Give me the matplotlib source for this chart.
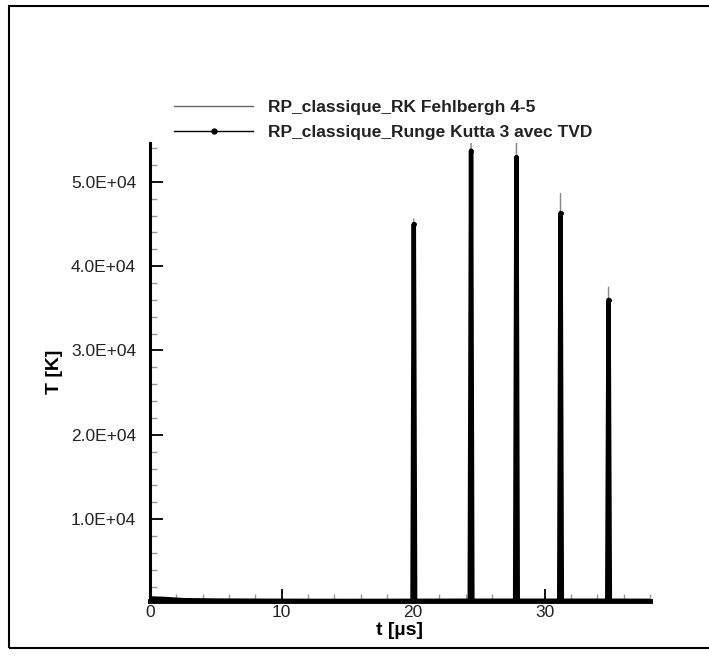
import matplotlib
matplotlib.use('Agg')
import matplotlib.pyplot as plt
from matplotlib.patches import Rectangle
from matplotlib.ticker import MultipleLocator, FuncFormatter

plt.rcParams['font.family'] = ['Liberation Sans', 'DejaVu Sans']

# RK Fehlbergh 4-5 (thin grey line)
t_rkf = [0.0, 1.0, 2.5, 5.0, 10.0, 15.0, 19.95, 20.05, 20.15,
         24.30, 24.40, 24.50, 27.75, 27.85, 27.95, 31.10, 31.20, 31.30,
         34.75, 34.85, 34.95, 38.0]
T_rkf = [600, 550, 400, 350, 320, 310, 320, 45600, 320,
         330, 56000, 330, 330, 56000, 330, 330, 48600, 330,
         330, 37500, 330, 320]

# Runge Kutta 3 avec TVD (thick black line with symbols)
t_rk3 = [0.0, 1.0, 2.5, 5.0, 10.0, 15.0, 19.95, 20.05, 20.15,
         24.30, 24.40, 24.50, 27.75, 27.85, 27.95, 31.10, 31.20, 31.30,
         34.75, 34.85, 34.95, 38.0]
T_rk3 = [600, 550, 400, 350, 320, 310, 320, 45000, 320,
         330, 53700, 330, 330, 52900, 330, 330, 46300, 330,
         330, 36000, 330, 320]

fig = plt.figure(figsize=(7.09, 6.59), dpi=100)
ax = fig.add_axes([150 / 709, 58 / 659, 500 / 709, 458 / 659])

ax.plot(t_rkf, T_rkf, color='#888888', lw=1.0,
        label='RP_classique_RK Fehlbergh 4-5')
ax.plot(t_rk3, T_rk3, color='black', lw=3.2, marker='o', ms=2.5,
        label='RP_classique_Runge Kutta 3 avec TVD')

ax.set_xlim(0, 38.0)
ax.set_ylim(300, 54600)

for s in ['top', 'right']:
    ax.spines[s].set_visible(False)
ax.spines['left'].set_linewidth(2.2)
ax.spines['bottom'].set_linewidth(3.5)

ax.xaxis.set_major_locator(MultipleLocator(10))
ax.xaxis.set_minor_locator(MultipleLocator(2))
ax.yaxis.set_major_locator(MultipleLocator(10000))
ax.yaxis.set_minor_locator(MultipleLocator(2000))
ax.yaxis.set_major_formatter(FuncFormatter(
    lambda v, p: '' if v < 5000 else '%.1fE+%02d' % (v / 10 ** 4, 4)))
ax.tick_params(which='major', direction='in', length=9, width=1.3,
               labelsize=12.5, labelcolor='#222222')
ax.tick_params(which='minor', direction='in', length=5, width=1.0,
               color='#999999')
ax.tick_params(axis='y', pad=10)
ax.tick_params(axis='x', pad=3)

ax.set_xlabel('t [µs]', fontsize=14, fontweight='bold', labelpad=1)
ax.set_ylabel('T [K]', fontsize=14, fontweight='bold', labelpad=6)

leg = ax.legend(loc='upper left', bbox_to_anchor=(158 / 709, 1 - 84 / 659),
                bbox_transform=fig.transFigure, frameon=False,
                fontsize=12.5, handlelength=4.6, handletextpad=0.85,
                labelspacing=0.6, numpoints=1)
for txt in leg.get_texts():
    txt.set_fontweight('bold')
    txt.set_color('#222222')
leg.get_lines()[0].set_linewidth(1.0)
leg.get_lines()[0].set_color('#666666')
leg.get_lines()[1].set_linewidth(1.0)
leg.get_lines()[1].set_markersize(3.5)

# outer frame around the plot
fig.patches.append(Rectangle((9 / 709, 11 / 659), 1.2, 642 / 659,
                             transform=fig.transFigure, fill=False,
                             edgecolor='black', lw=1.5))

fig.savefig('out.png', dpi=100)
